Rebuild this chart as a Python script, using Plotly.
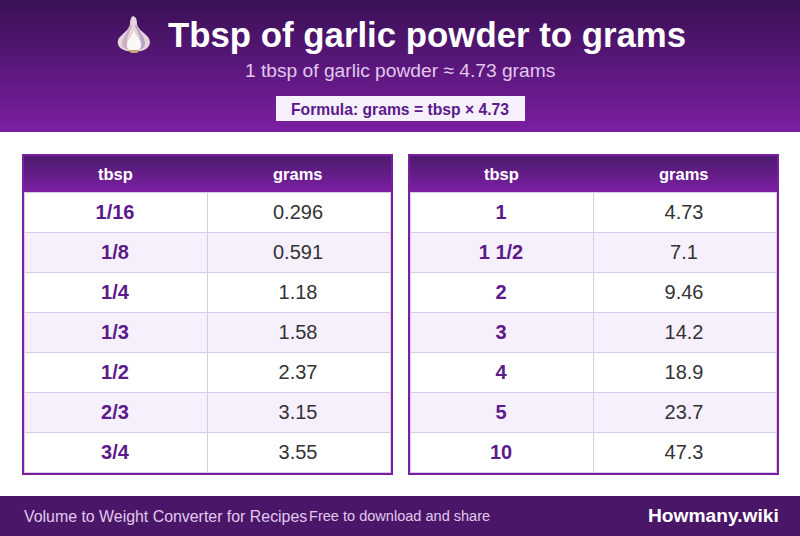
import plotly.graph_objects as go

W = 800
H = 536

tbsp_left = ['1/16', '1/8', '1/4', '1/3', '1/2', '2/3', '3/4']
grams_left = ['0.296', '0.591', '1.18', '1.58', '2.37', '3.15', '3.55']
tbsp_right = ['1', '1 1/2', '2', '3', '4', '5', '10']
grams_right = ['4.73', '7.1', '9.46', '14.2', '18.9', '23.7', '47.3']
col_names = ['tbsp', 'grams']

title = 'Tbsp of garlic powder to grams'
subtitle = '1 tbsp of garlic powder ≈ 4.73 grams'
formula = 'Formula: grams = tbsp × 4.73'
footer_left = 'Volume to Weight Converter for Recipes'
footer_mid = 'Free to download and share'
brand = 'Howmany.wiki'

FONT = 'Liberation Sans'
DARK = '#4a1a6b'
PURPLE = '#7b1fa2'
TEXT_PURPLE = '#5c1a8a'
INK = '#333333'
GRID = '#dcc8e8'
ROW_H = 40
HEAD_Y = 192


def mix(c1, c2, t):
    a = [int(c1[i:i + 2], 16) for i in (1, 3, 5)]
    b = [int(c2[i:i + 2], 16) for i in (1, 3, 5)]
    return 'rgb(%d,%d,%d)' % tuple(round(a[i] + (b[i] - a[i]) * t) for i in range(3))


def rect(x0, y0, x1, y1, fill):
    return dict(type='rect', xref='x', yref='y', x0=x0, y0=y0, x1=x1, y1=y1,
                fillcolor=fill, line=dict(width=0), layer='below')


def gradient(x0, y0, x1, y1, c1, c2):
    out = []
    for y in range(y0, y1):
        out.append(rect(x0, y, x1, y + 1, mix(c1, c2, (y - y0) / (y1 - y0 - 1))))
    return out


def blob(path, fill):
    return dict(type='path', xref='x', yref='y', path=path, fillcolor=fill,
                line=dict(width=0), layer='above')


def label(x, y, text, size, color, anchor='center'):
    return dict(x=x, y=y, xref='x', yref='y', text=text, showarrow=False, xanchor=anchor, yanchor='middle',
                font=dict(family=FONT, size=size, color=color))


def table_shapes(x0):
    out = gradient(x0, 154, x0 + 371, HEAD_Y, DARK, PURPLE)
    for i in range(7):
        y = HEAD_Y + i * ROW_H
        out.append(rect(x0 + 2, y, x0 + 369, y + ROW_H, '#ffffff' if i % 2 == 0 else '#f5f0fc'))
        out.append(rect(x0 + 2, y, x0 + 369, y + 1, GRID))
    out.append(rect(x0 + 2, HEAD_Y + 7 * ROW_H, x0 + 369, HEAD_Y + 7 * ROW_H + 1, GRID))
    out.append(rect(x0 + 185, HEAD_Y, x0 + 186, HEAD_Y + 7 * ROW_H, GRID))
    out.append(rect(x0 + 2, HEAD_Y, x0 + 3, HEAD_Y + 7 * ROW_H, GRID))
    out.append(rect(x0 + 368, HEAD_Y, x0 + 369, HEAD_Y + 7 * ROW_H, GRID))
    out.append(dict(type='rect', xref='x', yref='y', x0=x0 + 1, y0=155, x1=x0 + 370, y1=474,
                    line=dict(color=PURPLE, width=2), layer='below'))
    return out


def column(x, rows, size, color, bold=False):
    ys = [HEAD_Y + 1.5 + ROW_H * (i + 0.5) for i in range(len(rows))]
    text = ['<b>%s</b>' % r for r in rows] if bold else rows
    return go.Scatter(x=[x] * len(rows), y=ys, mode='text', text=text, textposition='middle center',
                      textfont=dict(family=FONT, size=size, color=color), hoverinfo='skip')


fig = go.Figure()
for x0, tbsp, grams in [(22, tbsp_left, grams_left), (408, tbsp_right, grams_right)]:
    fig.add_trace(column(x0 + 93, tbsp, 20, TEXT_PURPLE, bold=True))
    fig.add_trace(column(x0 + 276, grams, 20, INK))

shapes = []
shapes += gradient(0, 0, W, 132, '#3a1055', PURPLE)
shapes.append(rect(276, 96, 525, 121, '#f5f0fc'))
shapes += table_shapes(22)
shapes += table_shapes(408)
shapes.append(rect(0, 496, W, H, '#4a1768'))

# garlic icon
shapes.append(blob('M133 16 C136 17 137 19 137 24 C138 29 142 31 146 35 C152 40 151 47 144 50 '
                   'C140 52 128 52 124 50 C116 47 116 39 122 35 C126 31 129 29 130 24 C130 20 131 17 133 16 Z',
                   '#e6d6dc'))
shapes.append(blob('M131 24 C129 31 122 37 122 44 C122 47 125 49 128 50 C125 44 128 34 132 26 Z', '#c7b1c2'))
shapes.append(blob('M136 24 C138 31 146 37 145 44 C145 47 142 49 140 50 C143 44 139 34 135 26 Z', '#b9a6c6'))
shapes.append(blob('M134 30 C136 37 141 40 141 45 C141 49 137 51 134 51 C130 51 127 49 127 45 '
                   'C127 40 132 37 134 30 Z', '#fbf8f7'))
shapes.append(blob('M128 50 L140 50 L137 53 L131 53 Z', '#c9a27a'))

annotations = [
    label(426.5, 34, '<b>' + title + '</b>', 34.8, '#ffffff'),
    label(400, 70, subtitle, 19.2, '#e1c8ee'),
    label(400, 109, '<b>' + formula + '</b>', 15.7, TEXT_PURPLE),
    label(22, 516, footer_left, 15.9, '#e1c8ee', anchor='left'),
    label(307, 516, footer_mid, 14.55, '#e1c8ee', anchor='left'),
    label(780.5, 515, '<b>' + brand + '</b>', 19.2, '#ffffff', anchor='right'),
]
for x0 in (22, 408):
    for offset, name in zip((93.5, 276), col_names):
        annotations.append(label(x0 + offset, 174, '<b>' + name + '</b>', 16.5, '#ffffff'))

fig.update_layout(
    width=W, height=H, autosize=False,
    margin=dict(l=0, r=0, t=0, b=0),
    paper_bgcolor='#ffffff', plot_bgcolor='rgba(0,0,0,0)',
    showlegend=False,
    xaxis=dict(range=[0, W], visible=False, domain=[0, 1], fixedrange=True),
    yaxis=dict(range=[H, 0], visible=False, domain=[0, 1], fixedrange=True),
    shapes=shapes, annotations=annotations,
)

fig.write_html('out.html', config=dict(displayModeBar=False),
               post_script="document.body.style.margin='0';")
